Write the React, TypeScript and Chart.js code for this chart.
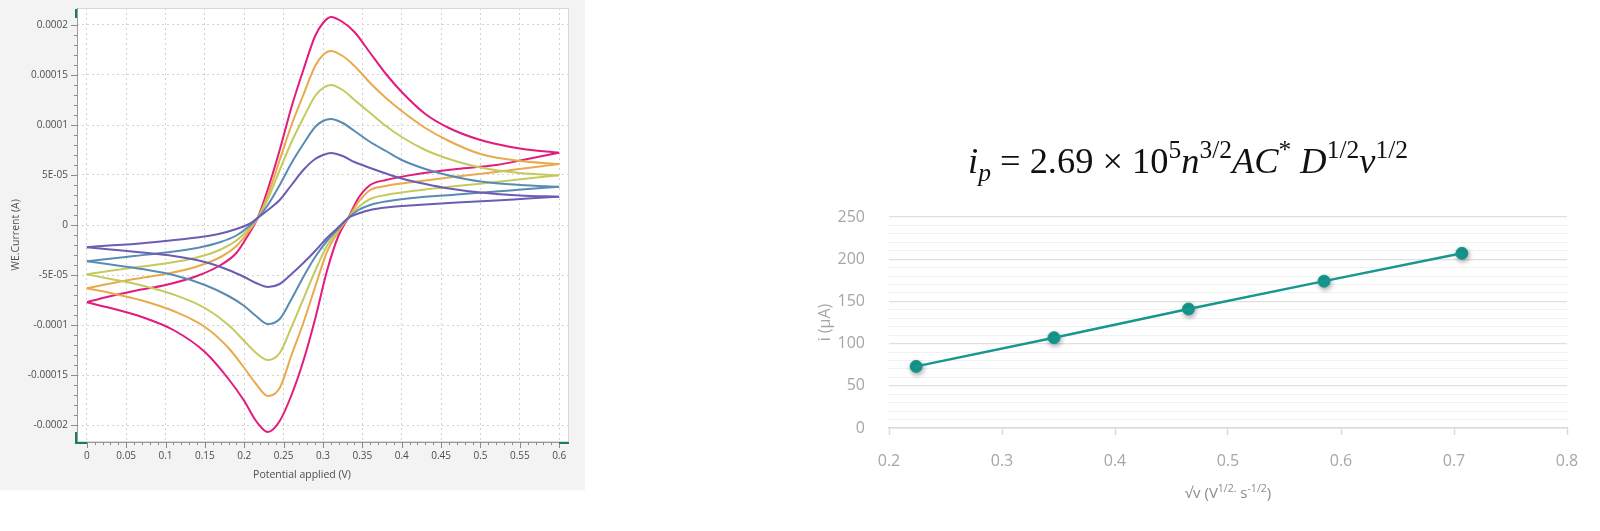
import React, { useEffect, useRef } from 'react';
import { Chart, registerables } from 'chart.js';

Chart.register(...registerables);

// ---------------- Left chart: cyclic voltammograms (current in 1e-5 A) ----------------
const FWD_POTENTIAL = [0, 0.02, 0.06, 0.1, 0.14, 0.17, 0.19, 0.205, 0.217, 0.23, 0.245, 0.26, 0.275, 0.29, 0.3, 0.31, 0.325, 0.34, 0.36, 0.38, 0.4, 0.43, 0.46, 0.5, 0.55, 0.6];
const REV_POTENTIAL = [0, 0.03, 0.07, 0.11, 0.15, 0.18, 0.2, 0.215, 0.23, 0.245, 0.26, 0.275, 0.29, 0.305, 0.32, 0.332, 0.345, 0.36, 0.38, 0.42, 0.47, 0.52, 0.56, 0.6];

const PURPLE_FWD = [-2.23, -2.1, -1.9, -1.6, -1.25, -0.85, -0.4, 0.05, 0.7, 1.5, 2.5, 4.0, 5.5, 6.6, 7.0, 7.2, 6.9, 6.3, 5.7, 5.15, 4.65, 4.1, 3.65, 3.25, 2.95, 2.83];
const BLUE_FWD = [-3.63, -3.45, -3.1, -2.75, -2.3, -1.7, -1.05, -0.2, 0.7, 2.0, 4.0, 6.2, 8.1, 9.8, 10.4, 10.6, 10.2, 9.4, 8.3, 7.4, 6.5, 5.6, 4.95, 4.35, 4.0, 3.83];
const GREEN_FWD = [-4.93, -4.7, -4.25, -3.85, -3.25, -2.45, -1.55, -0.45, 0.7, 2.6, 5.5, 8.3, 10.7, 12.9, 13.7, 14.0, 13.5, 12.5, 11.2, 9.9, 8.8, 7.5, 6.6, 5.75, 5.2, 4.97];
const ORANGE_FWD = [-6.33, -6.0, -5.4, -4.9, -4.15, -3.2, -2.1, -0.7, 0.7, 3.0, 6.5, 10.0, 13.0, 15.9, 17.0, 17.4, 16.9, 15.9, 14.2, 12.7, 11.4, 9.7, 8.4, 7.1, 6.4, 6.1];
const MAGENTA_FWD = [-7.73, -7.3, -6.6, -6.0, -5.1, -4.0, -2.8, -1.0, 0.7, 3.6, 7.5, 11.8, 15.5, 18.9, 20.2, 20.8, 20.3, 19.3, 17.2, 15.1, 13.3, 11.1, 9.7, 8.5, 7.65, 7.23];

const PURPLE_REV = [-2.23, -2.45, -2.75, -3.1, -3.7, -4.5, -5.2, -5.8, -6.2, -5.9, -4.9, -3.8, -2.6, -1.3, -0.2, 0.7, 1.15, 1.5, 1.75, 2.0, 2.25, 2.45, 2.65, 2.83];
const BLUE_REV = [-3.63, -3.95, -4.4, -5.0, -6.0, -7.1, -8.1, -9.1, -9.9, -9.4, -7.4, -5.2, -3.2, -1.6, -0.3, 0.7, 1.5, 2.0, 2.35, 2.75, 3.05, 3.35, 3.6, 3.83];
const GREEN_REV = [-4.93, -5.4, -6.05, -6.95, -8.3, -10.0, -11.6, -12.8, -13.5, -12.8, -10.2, -7.4, -4.6, -2.1, -0.4, 0.7, 1.8, 2.6, 3.0, 3.45, 3.9, 4.3, 4.65, 4.97];
const ORANGE_REV = [-6.33, -6.8, -7.55, -8.6, -10.2, -12.3, -14.3, -15.9, -17.1, -16.3, -13.0, -9.8, -6.2, -2.7, -0.6, 0.7, 2.3, 3.5, 3.9, 4.35, 4.85, 5.3, 5.7, 6.1];
const MAGENTA_REV = [-7.73, -8.3, -9.2, -10.5, -12.7, -15.4, -17.6, -19.6, -20.7, -19.6, -17.0, -13.6, -9.4, -4.6, -1.0, 0.7, 2.7, 4.0, 4.5, 5.1, 5.6, 6.0, 6.6, 7.23];

const CV_COLORS = ['#6b5cb4', '#5a8cb3', '#c4ca5e', '#e8aa4c', '#e21b7c'];
const CV_FWD = [PURPLE_FWD, BLUE_FWD, GREEN_FWD, ORANGE_FWD, MAGENTA_FWD];
const CV_REV = [PURPLE_REV, BLUE_REV, GREEN_REV, ORANGE_REV, MAGENTA_REV];

const CV_X_TICK_LABELS = ['0', '0.05', '0.1', '0.15', '0.2', '0.25', '0.3', '0.35', '0.4', '0.45', '0.5', '0.55', '0.6'];
const CV_Y_TICK_LABELS = ['-0.0002', '-0.00015', '-0.0001', '-5E-05', '0', '5E-05', '0.0001', '0.00015', '0.0002'];

// ---------------- Right chart: Randles–Sevcik plot ----------------
const SQRT_SCAN_RATE = [0.224, 0.346, 0.465, 0.585, 0.707];
const PEAK_CURRENT_UA = [73, 107, 141, 174, 207];
const RS_Y_TICK_LABELS = [0, 50, 100, 150, 200, 250];

type Seg = { t: string; italic?: boolean; sup?: boolean; sub?: boolean };

const EQUATION: Seg[] = [
  { t: 'i', italic: true },
  { t: 'p', italic: true, sub: true },
  { t: ' = 2.69 × 10' },
  { t: '5', sup: true },
  { t: 'n', italic: true },
  { t: '3/2', sup: true },
  { t: 'AC', italic: true },
  { t: '*', sup: true },
  { t: ' ' },
  { t: 'D', italic: true },
  { t: '1/2', sup: true },
  { t: 'v', italic: true },
  { t: '1/2', sup: true },
];

const RS_X_TITLE: Seg[] = [
  { t: '√v (V' },
  { t: '1/2.', sup: true },
  { t: ' s' },
  { t: '-1/2', sup: true },
  { t: ')' },
];

function layoutRich(ctx: CanvasRenderingContext2D, segs: Seg[], size: number, family: string) {
  const parts = segs.map((s) => {
    const fs = s.sup || s.sub ? size * 0.7 : size;
    const font = `${s.italic ? 'italic ' : ''}${fs}px ${family}`;
    ctx.font = font;
    const w = ctx.measureText(s.t).width;
    const dy = s.sup ? -size * 0.4 : s.sub ? size * 0.22 : 0;
    return { t: s.t, font, w, dy };
  });
  const total = parts.reduce((a, p) => a + p.w, 0);
  return { parts, total };
}

function drawRich(ctx: CanvasRenderingContext2D, segs: Seg[], cx: number, baseline: number, size: number, family: string, color: string) {
  const { parts, total } = layoutRich(ctx, segs, size, family);
  ctx.save();
  ctx.fillStyle = color;
  ctx.textAlign = 'left';
  ctx.textBaseline = 'alphabetic';
  let x = cx - total / 2;
  for (const p of parts) {
    ctx.font = p.font;
    ctx.fillText(p.t, x, baseline + p.dy);
    x += p.w;
  }
  ctx.restore();
}

function cvXIndex(v: number) {
  const k = Math.round(v * 100);
  if (Math.abs(v * 100 - k) > 1e-6 || k < 0 || k % 5 !== 0) return -1;
  return k / 5;
}
function cvYIndex(v: number) {
  const k = Math.round(v);
  if (Math.abs(v - k) > 1e-6 || k % 5 !== 0) return -99;
  return k / 5 + 4;
}

const cvDecor = {
  id: 'cvDecor',
  beforeDraw(chart: any) {
    const { ctx, chartArea: a, width, height } = chart;
    ctx.save();
    ctx.fillStyle = '#f3f3f3';
    ctx.fillRect(0, 0, width, height);
    ctx.fillStyle = '#ffffff';
    ctx.fillRect(a.left, a.top, a.right - a.left, a.bottom - a.top);
    ctx.restore();
  },
  afterDraw(chart: any) {
    const { ctx, chartArea: a } = chart;
    const xs = chart.scales.x;
    const ys = chart.scales.y;
    ctx.save();
    // frame
    ctx.lineWidth = 1;
    ctx.strokeStyle = '#d9d9d9';
    ctx.strokeRect(a.left + 0.5, a.top + 0.5, a.right - a.left - 1, a.bottom - a.top - 1);
    ctx.strokeStyle = '#9a9a9a';
    ctx.beginPath();
    ctx.moveTo(a.left + 0.5, a.top);
    ctx.lineTo(a.left + 0.5, a.bottom + 0.5);
    ctx.lineTo(a.right, a.bottom + 0.5);
    ctx.stroke();
    // tick marks
    ctx.strokeStyle = '#8a8a8a';
    ctx.beginPath();
    for (const t of ys.ticks) {
      const k = Math.round(t.value);
      if (Math.abs(t.value - k) > 1e-6) continue;
      const major = k % 5 === 0;
      const y = Math.round(ys.getPixelForValue(t.value)) + 0.5;
      ctx.moveTo(a.left - (major ? 6 : 3), y);
      ctx.lineTo(a.left, y);
    }
    for (const t of xs.ticks) {
      const k = Math.round(t.value * 100);
      if (Math.abs(t.value * 100 - k) > 1e-6 || k < 0) continue;
      const major = k % 5 === 0;
      const x = Math.round(xs.getPixelForValue(t.value)) + 0.5;
      ctx.moveTo(x, a.bottom);
      ctx.lineTo(x, a.bottom + (major ? 6 : 3));
    }
    ctx.stroke();
    // corner handles
    ctx.strokeStyle = '#1e7b63';
    ctx.lineWidth = 2;
    ctx.beginPath();
    ctx.moveTo(a.left - 1, a.top + 1);
    ctx.lineTo(a.left - 1, a.top + 10);
    ctx.moveTo(a.left - 1, a.bottom - 10);
    ctx.lineTo(a.left - 1, a.bottom + 1);
    ctx.lineTo(a.left + 10, a.bottom + 1);
    ctx.moveTo(a.right - 10, a.bottom + 1);
    ctx.lineTo(a.right, a.bottom + 1);
    ctx.stroke();
    // axis titles
    ctx.fillStyle = '#4d4d4d';
    ctx.font = '10.5px "Open Sans"';
    ctx.textAlign = 'center';
    ctx.textBaseline = 'middle';
    ctx.fillText('Potential applied (V)', 302, 475);
    ctx.translate(16, 235);
    ctx.rotate(-Math.PI / 2);
    ctx.fillText('WE.Current (A)', 0, 0);
    ctx.restore();
  },
};

function cvConfig(): any {
  const datasets: any[] = [];
  CV_FWD.forEach((ys, i) => {
    datasets.push({
      data: FWD_POTENTIAL.map((x, j) => ({ x, y: ys[j] })),
      borderColor: CV_COLORS[i],
      showLine: true,
      borderWidth: 2,
      pointRadius: 0,
      cubicInterpolationMode: 'monotone',
    });
    datasets.push({
      data: REV_POTENTIAL.map((x, j) => ({ x, y: CV_REV[i][j] })),
      borderColor: CV_COLORS[i],
      showLine: true,
      borderWidth: 2,
      pointRadius: 0,
      cubicInterpolationMode: 'monotone',
    });
  });
  const tickFont = { family: 'Open Sans', size: 10 };
  return {
    type: 'scatter',
    data: { datasets },
    options: {
      animation: false,
      responsive: false,
      layout: { padding: { top: 8, right: 16, left: 0, bottom: 0 } },
      plugins: { legend: { display: false }, tooltip: { enabled: false } },
      scales: {
        x: {
          type: 'linear',
          min: -0.0125,
          max: 0.6125,
          ticks: {
            stepSize: 0.01,
            autoSkip: false,
            maxRotation: 0,
            minRotation: 0,
            padding: 8,
            color: '#4d4d4d',
            font: tickFont,
            callback: (v: number) => {
              const i = cvXIndex(v);
              return i >= 0 && i < CV_X_TICK_LABELS.length ? CV_X_TICK_LABELS[i] : '';
            },
          },
          grid: {
            drawTicks: false,
            color: (c: any) => (c.tick && cvXIndex(c.tick.value) >= 0 ? '#d2d2d2' : 'rgba(0,0,0,0)'),
          },
          border: { display: false, dash: [2, 3] },
          afterFit: (s: any) => {
            s.height = 48;
            s.paddingLeft = 0;
            s.paddingRight = 0;
          },
        },
        y: {
          type: 'linear',
          min: -21.7,
          max: 21.7,
          ticks: {
            stepSize: 1,
            autoSkip: false,
            padding: 9,
            color: '#4d4d4d',
            font: tickFont,
            callback: (v: number) => {
              const i = cvYIndex(v);
              return i >= 0 && i < CV_Y_TICK_LABELS.length ? CV_Y_TICK_LABELS[i] : '';
            },
          },
          grid: {
            drawTicks: false,
            color: (c: any) => (c.tick && cvYIndex(c.tick.value) >= 0 ? '#d2d2d2' : 'rgba(0,0,0,0)'),
          },
          border: { display: false, dash: [2, 3] },
          afterFit: (s: any) => {
            s.width = 77;
            s.paddingTop = 0;
            s.paddingBottom = 0;
          },
        },
      },
    },
    plugins: [cvDecor],
  };
}

const TEAL = '#17978d';

const rsDecor = {
  id: 'rsDecor',
  beforeDatasetDraw(chart: any, args: any) {
    if (args.index === 1) {
      const c = chart.ctx;
      c.save();
      c.shadowColor = 'rgba(0,0,0,0.35)';
      c.shadowBlur = 5;
      c.shadowOffsetX = 1;
      c.shadowOffsetY = 2;
    }
  },
  afterDatasetDraw(chart: any, args: any) {
    if (args.index === 1) chart.ctx.restore();
  },
  afterDraw(chart: any) {
    const { ctx, chartArea: a } = chart;
    const family = '"Liberation Serif", "DejaVu Serif", serif';
    const base = 36;
    const { total } = layoutRich(ctx, EQUATION, base, family);
    const size = Math.max(28, Math.min(46, (base * 440) / total));
    drawRich(ctx, EQUATION, 408, 173, size, family, '#111111');
    drawRich(ctx, RS_X_TITLE, (a.left + a.right) / 2, 498, 15, '"Open Sans"', '#8c8c8c');
    ctx.save();
    ctx.fillStyle = '#a6a6a6';
    ctx.font = '16px "Open Sans"';
    ctx.textAlign = 'center';
    ctx.textBaseline = 'middle';
    ctx.translate(45, (a.top + a.bottom) / 2);
    ctx.rotate(-Math.PI / 2);
    ctx.fillText('i (μA)', 0, 0);
    ctx.restore();
  },
};

function rsConfig(): any {
  const pts = SQRT_SCAN_RATE.map((x, i) => ({ x, y: PEAK_CURRENT_UA[i] }));
  const tickFont = { family: 'Open Sans', size: 16 };
  return {
    type: 'scatter',
    data: {
      datasets: [
        { data: pts, showLine: true, borderColor: TEAL, borderWidth: 2.5, pointRadius: 0 },
        { data: pts, showLine: false, pointRadius: 6, pointBackgroundColor: TEAL, pointBorderColor: TEAL, pointBorderWidth: 1 },
      ],
    },
    options: {
      animation: false,
      responsive: false,
      layout: { padding: { top: 217, right: 33, left: 0, bottom: 0 } },
      plugins: { legend: { display: false }, tooltip: { enabled: false } },
      scales: {
        x: {
          type: 'linear',
          min: 0.2,
          max: 0.8,
          ticks: {
            stepSize: 0.1,
            autoSkip: false,
            maxRotation: 0,
            minRotation: 0,
            padding: 17,
            color: '#a6a6a6',
            font: tickFont,
            callback: (v: number) => Number(v).toFixed(1),
          },
          grid: { color: 'rgba(0,0,0,0)', drawTicks: true, tickLength: 7, tickColor: '#d9d9d9', tickWidth: 1.5 },
          border: { display: true, color: '#d9d9d9', width: 1.5 },
          afterFit: (s: any) => {
            s.height = 103;
          },
        },
        y: {
          type: 'linear',
          min: 0,
          max: 250,
          ticks: {
            stepSize: 10,
            autoSkip: false,
            padding: 24,
            color: '#a6a6a6',
            font: tickFont,
            callback: (v: number) => (RS_Y_TICK_LABELS.includes(Math.round(v)) && Math.abs(v - Math.round(v)) < 1e-6 ? String(Math.round(v)) : ''),
          },
          grid: {
            drawTicks: false,
            color: (c: any) => (c.tick && RS_Y_TICK_LABELS.includes(Math.round(c.tick.value)) ? '#e0e0e0' : '#f1f1f1'),
            lineWidth: (c: any) => (c.tick && RS_Y_TICK_LABELS.includes(Math.round(c.tick.value)) ? 1.3 : 1),
          },
          border: { display: false },
          afterFit: (s: any) => {
            s.width = 109;
          },
        },
      },
    },
    plugins: [rsDecor],
  };
}

function ChartCanvas({ make, left, top, width, height }: { make: () => any; left: number; top: number; width: number; height: number }) {
  const ref = useRef<HTMLCanvasElement>(null);
  useEffect(() => {
    const chart = new Chart(ref.current as HTMLCanvasElement, make());
    return () => chart.destroy();
  }, []);
  return (
    <canvas
      ref={ref}
      width={width}
      height={height}
      style={{ position: 'absolute', left, top, width, height, display: 'block' }}
    />
  );
}

export default function App() {
  return (
    <div style={{ position: 'absolute', left: 0, top: 0, width: 1600, height: 531, background: '#ffffff', overflow: 'hidden' }}>
      <ChartCanvas make={cvConfig} left={0} top={0} width={585} height={490} />
      <ChartCanvas make={rsConfig} left={780} top={0} width={820} height={531} />
    </div>
  );
}
